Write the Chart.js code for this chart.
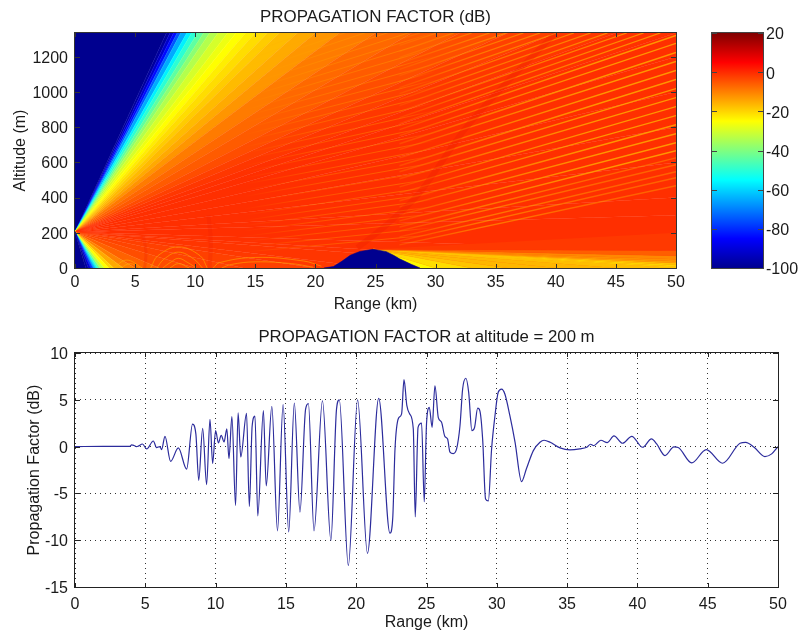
<!DOCTYPE html>
<html>
<head>
<meta charset="utf-8">
<title>Propagation factor</title>
<script src="https://cdn.jsdelivr.net/npm/chart.js@4"></script>
<style>
  html, body { margin: 0; padding: 0; background: #fff; }
  canvas { position: absolute; display: block; }
</style>
</head>
<body>
<canvas id="mapChart" width="700" height="315" style="left:0;top:0;width:700px;height:315px"></canvas>
<canvas id="barChart" width="103" height="312" style="left:700px;top:0;width:103px;height:312px"></canvas>
<canvas id="cutChart" width="803" height="313" style="left:0;top:320px;width:803px;height:313px"></canvas>
<script>
// jet colormap
const jetDb = [-100, -85, -55, -25, 5, 20];
const jetRgb = [[0, 0, 143], [0, 0, 255], [0, 255, 255], [255, 255, 0], [255, 0, 0], [128, 0, 0]];
const barTicks = [-100, -80, -60, -40, -20, 0, 20];

// map: source point, then the fan of angles around it (edge of the plot, dB per ray)
const sourceRange = 0;
const sourceAlt = 205;
const fanRange = [0, 7.6, 7.9, 8.2, 8.5, 8.8, 9.3, 9.7, 10.2, 10.7, 11.2, 11.9, 12.7, 13.4, 14.2, 15, 16, 17, 18.5, 20, 22, 25, 28, 32, 36, 40, 45, 50,
  50, 50, 50, 50, 50, 50, 50, 50,
  40, 25, 20, 14, 10, 7, 5, 4, 3.2, 2.8, 2.4, 2.1, 1.9, 1.7, 1.5, 1.3, 1.1, 0.9, 0];
const fanAlt = [1335, 1335, 1335, 1335, 1335, 1335, 1335, 1335, 1335, 1335, 1335, 1335, 1335, 1335, 1335, 1335, 1335, 1335, 1335, 1335, 1335, 1335, 1335, 1335, 1335, 1335, 1335, 1335,
  1200, 1000, 800, 600, 400, 300, 100, 0,
  0, 0, 0, 0, 0, 0, 0, 0, 0, 0, 0, 0, 0, 0, 0, 0, 0, 0, 0];
const fanDb = [-100, -100, -96, -88, -80, -70, -60, -53, -47, -41, -36, -32, -28, -26, -24, -22, -20, -18, -16, -14, -11, -8, -6.5, -5, -3, -2, -1, -0.5,
  -0.5, -0.5, -0.5, -0.5, -0.5, -0.5, -0.5, -1,
  -1, -1.5, -2, -3, -3, -5, -8, -12, -18, -22, -28, -36, -45, -56, -70, -85, -95, -100, -100];

// shadow behind the hill: rays from the hill top
const hillRange = [20.7, 21.5, 22.2, 22.9, 23.7, 24.8, 25.9, 26.5, 27, 28, 28.7];
const hillAlt = [0, 8, 38, 72, 94, 106, 93, 72, 52, 20, 0];
const shadowRange = [28.7, 30, 33, 36, 40, 45, 50, 50, 50, 50, 50, 50, 50, 50, 50];
const shadowAlt = [0, 0, 0, 0, 0, 0, 0, 8, 18, 28, 38, 50, 70, 100, 200];
const shadowDb = [-26, -23, -19, -17, -16, -17, -18, -20, -20, -17, -11, -13, -9, -3, -0.5];

// interference stripes, right half
const stripeRangeA = [27, 27, 27, 27, 27, 27, 27, 27, 27, 27, 27, 27, 27, 27, 27, 27, 27, 27, 27];
const stripeAltA = [786, 752, 706, 672, 626, 581, 547, 507, 461, 427, 382, 347, 302, 268, 233, 211, 177, 154, 131];
const stripeRangeB = [50, 50, 50, 50, 50, 50, 50, 50, 50, 50, 50, 50, 50, 50, 50, 50, 50, 50, 50];
const stripeAltB = [1321, 1276, 1224, 1173, 1122, 1071, 1019, 968, 917, 866, 814, 763, 712, 666, 626, 587, 547, 513, 467];

// stripes that run out through the top edge
const topStripeAlt = [820, 854, 888, 923, 957, 991, 1025, 1059, 1093, 1128, 1162, 1196, 1230, 1265, 1299];
const topStripeEnd = [48.7, 47.3, 45.9, 44.3, 42.9, 41.5, 40.1, 38.7, 37.3, 35.9, 34.5, 33, 31.5, 30.1, 28.7];

// finer, fainter stripes further left, altitude at 14 km and at 30 km
const fineAlt14 = [90, 120, 150, 180, 210, 240, 270, 300, 335, 370, 405, 440, 475, 510, 545, 580, 615, 650, 685, 720, 755, 790, 825, 860, 895, 930, 965, 1000, 1035, 1070, 1105, 1140, 1175, 1210];
const fineAlt30 = [190, 230, 270, 310, 350, 390, 425, 465, 510, 555, 600, 640, 680, 725, 770, 810, 855, 895, 940, 985, 1030, 1070, 1115, 1160, 1205, 1250, 1295, 1340, 1385, 1425, 1470, 1510, 1555, 1595];

// rings close to the ground
const ringRanges = [
  [6.3, 6.9, 8.6, 10.4, 11], [6.8, 7.4, 8.6, 9.9, 10.6], [7.3, 7.9, 8.6, 9.4, 10.1], [7.9, 8.6, 9.5],
  [3.2, 4.3, 5.6], [3.8, 4.6, 5.4], [11.5, 12, 15, 19, 20.5], [12.2, 13, 15, 18, 19.8]
];
const ringAlts = [
  [0, 70, 120, 70, 0], [0, 50, 90, 50, 0], [0, 30, 55, 30, 0], [0, 25, 0],
  [0, 45, 0], [0, 25, 0], [0, 30, 60, 40, 10], [0, 20, 35, 25, 5]
];

// darker red arc above the hill, and the two short ones on the left
const arcRange = [23.5, 26, 28.7, 32.4, 36, 40];
const arcAlt = [115, 250, 430, 786, 1060, 1335];
const nearArcRange = [5.8, 5.9, 5.7];
const nearArcAlt = [0, 90, 180];
const midArcRange = [11.2, 11.3, 11.1];
const midArcAlt = [0, 150, 300];

const mapRangeTicks = [0, 5, 10, 15, 20, 25, 30, 35, 40, 45, 50];

// cut at 200 m
const cutRange = [0, 2, 3.9, 4.03, 4.2, 4.39, 4.5, 4.8, 5.1, 5.57, 5.8, 6.04, 6.16, 6.4, 6.8, 7.35, 7.94, 8.36, 8.6, 8.8, 9.08, 9.36, 9.6, 9.79, 10, 10.2, 10.4, 10.6, 10.8, 10.95, 11.16, 11.42, 11.6, 11.79, 12.2, 12.4, 12.6, 12.8, 13, 13.4, 13.6, 14, 14.4, 14.8, 15.2, 15.6, 16, 16.4, 16.6, 17, 17.6, 18.2, 18.6, 18.8, 19.44, 20.1, 20.8, 21.6, 22.4, 22.6, 22.76, 23, 23.23, 23.4, 23.6, 23.8, 24.06, 24.2, 24.4, 24.65, 24.84, 25, 25.2, 25.4, 25.6, 25.84, 26.07, 26.3, 26.5, 26.67, 26.9, 27.14, 27.38, 27.57, 27.8, 28, 28.23, 28.42, 28.64, 28.8, 29, 29.2, 29.4, 29.63, 29.87, 30.1, 30.34, 30.58, 30.93, 31.3, 31.76, 32.1, 32.6, 33.07, 33.36, 33.8, 34.5, 35.2, 35.9, 36.4, 36.67, 36.9, 37.4, 37.86, 38.33, 38.95, 39.6, 40.37, 41, 41.37, 41.96, 42.6, 42.9, 43.86, 44.9, 46.06, 47.3, 47.7, 48.3, 49.07, 49.55, 50];
const cutDb = [0, 0.02, 0.03, 0.18, 0.12, 0, 0.05, 0.28, -0.25, 0.6, -0.1, 0, -0.32, 1.1, -1.57, -0.14, -2.4, 2.4, 1.3, -3.6, 1.96, -4.06, 2.9, -1.8, 1.7, 0.4, 1.2, 0.5, 1.9, -1.3, 3.2, -6.3, 3.6, -1.1, 3.55, -6.4, 2.2, 3.25, -7.4, 3.84, -4.2, 4.3, -9, 4.5, -9.1, 4.66, -7, 4, 4.6, -9, 4.9, -10, 4, 5, -12.7, 5, -11.4, 5.16, -9.25, -7.6, -0.25, 3, 3.5, 7.15, 4.4, 3.5, 1.9, -7.5, 2.06, 2.5, -5.9, 2.4, 4.2, 2.06, 6.5, 3.1, 2.6, 1.1, 0.8, -0.6, -0.75, -0.25, 2.2, 6.15, 7.3, 5.8, 1.7, 2.06, 4.1, 3.8, 0.64, -5.6, -5.8, -0.25, 3.3, 5.8, 6.15, 5.6, 3.3, 0.46, -3.74, -2.4, -0.43, 0.46, 0.68, 0.46, -0.14, -0.36, -0.25, -0.07, 0.25, 0.1, 0.68, 0.43, 1.14, 0.36, 1.1, -0.07, 0.82, 0.28, -0.96, -0.04, -0.1, -1.74, -0.32, -1.78, 0.36, 0.46, -0.07, -1.07, -0.78, 0];

const fontFamily = '"Liberation Sans", Arial, sans-serif';
const textColor = '#1a1a1a';

function jet(db) {
  let i = 0;
  while (i < jetDb.length - 2 && db > jetDb[i + 1]) i++;
  const t = Math.max(0, Math.min(1, (db - jetDb[i]) / (jetDb[i + 1] - jetDb[i])));
  const c = jetRgb[i].map((v, k) => Math.round(v + (jetRgb[i + 1][k] - v) * t));
  return `rgb(${c[0]}, ${c[1]}, ${c[2]})`;
}

function xy(xs, ys) {
  return xs.map((x, i) => ({ x, y: ys[i] }));
}

function shape(points, color) {
  return { data: points, fill: 'shape', backgroundColor: color, borderColor: color, borderWidth: 0.6, pointRadius: 0, tension: 0 };
}

function stroke(points, color, width, tension) {
  return { data: points, fill: false, borderColor: color, borderWidth: width, pointRadius: 0, tension: tension || 0 };
}

// stripe whose strength changes along the range axis: [km, alpha] pairs
function fadeColor(rgb, fade) {
  return c => {
    const x = c.chart.scales.x;
    const x0 = x ? x.getPixelForValue(fade[0][0]) : NaN;
    const x1 = x ? x.getPixelForValue(fade[fade.length - 1][0]) : NaN;
    if (!isFinite(x0) || !isFinite(x1)) return 'rgba(0, 0, 0, 0)';
    const g = c.chart.ctx.createLinearGradient(x0, 0, x1, 0);
    const span = fade[fade.length - 1][0] - fade[0][0];
    fade.forEach(f => g.addColorStop((f[0] - fade[0][0]) / span, `rgba(${rgb}, ${f[1]})`));
    return g;
  };
}

// title over the plot area, not over the whole canvas
const plotTitle = {
  id: 'plotTitle',
  afterDraw(chart, args, opts) {
    const { ctx, chartArea } = chart;
    ctx.save();
    ctx.font = `${opts.size}px ${fontFamily}`;
    ctx.fillStyle = textColor;
    ctx.textAlign = 'center';
    ctx.textBaseline = 'middle';
    ctx.fillText(opts.text, (chartArea.left + chartArea.right) / 2, opts.y);
    ctx.restore();
  }
};

// box round the plot with short inward ticks like the original
const plotBox = {
  id: 'plotBox',
  afterDatasetsDraw(chart, args, opts) {
    const { ctx, chartArea, scales } = chart;
    const { left, right, top, bottom } = chartArea;
    ctx.save();
    ctx.strokeStyle = opts.color;
    ctx.lineWidth = 1;
    ctx.strokeRect(left - 0.5, top - 0.5, right - left + 1, bottom - top + 1);
    ctx.beginPath();
    if (scales.x.options.display) {
      scales.x.ticks.forEach(t => {
        const px = Math.round(scales.x.getPixelForValue(t.value)) + 0.5;
        ctx.moveTo(px, bottom); ctx.lineTo(px, bottom - 4);
        ctx.moveTo(px, top); ctx.lineTo(px, top + 4);
      });
    }
    scales.y.ticks.forEach(t => {
      const py = Math.round(scales.y.getPixelForValue(t.value)) + 0.5;
      ctx.moveTo(left, py); ctx.lineTo(left + 5, py);
      ctx.moveTo(right, py); ctx.lineTo(right - 5, py);
    });
    ctx.stroke();
    ctx.restore();
  }
};

function tickFont() {
  return { family: fontFamily, size: 16 };
}

function axisTitle(text, pad) {
  return { display: true, text, color: textColor, font: { family: fontFamily, size: 16 }, padding: pad };
}

const plainTick = value => String(value);

document.addEventListener('DOMContentLoaded', () => {
  // heat map, painter's order: first dataset in this list is painted first
  const layers = [];
  for (let i = 0; i < fanRange.length - 1; i++) {
    const pts = [{ x: sourceRange, y: sourceAlt }, { x: fanRange[i], y: fanAlt[i] }, { x: fanRange[i + 1], y: fanAlt[i + 1] }];
    layers.push(shape(pts, jet((fanDb[i] + fanDb[i + 1]) / 2)));
  }
  fineAlt14.forEach((a, i) => {
    layers.push(stroke([{ x: 14, y: a }, { x: 30, y: fineAlt30[i] }], fadeColor('255, 165, 0', [[14, 0], [20, 0.3], [27, 0.4], [30, 0]]), 1));
  });
  ringRanges.forEach((r, i) => {
    layers.push(stroke(xy(r, ringAlts[i]), 'rgba(255, 190, 0, 0.5)', 1, 0.4));
  });
  layers.push(stroke(xy(nearArcRange, nearArcAlt), 'rgba(240, 30, 0, 0.25)', 3, 0.4));
  layers.push(stroke(xy(midArcRange, midArcAlt), 'rgba(240, 30, 0, 0.25)', 4, 0.4));
  for (let i = 0; i < shadowRange.length - 1; i++) {
    const pts = [{ x: 24.8, y: 106 }, { x: shadowRange[i], y: shadowAlt[i] }, { x: shadowRange[i + 1], y: shadowAlt[i + 1] }];
    layers.push(shape(pts, jet((shadowDb[i] + shadowDb[i + 1]) / 2)));
  }
  topStripeAlt.forEach((a, i) => {
    layers.push(stroke([{ x: 27, y: a }, { x: topStripeEnd[i], y: 1335 }], fadeColor('255, 170, 0', [[27, 0.15], [33, 0.5], [50, 0.8]]), 1.3));
  });
  stripeAltA.forEach((a, i) => {
    const top = i > 13 ? 0.4 : 0.8;
    layers.push(stroke([{ x: stripeRangeA[i], y: a }, { x: stripeRangeB[i], y: stripeAltB[i] }], fadeColor('255, 175, 0', [[27, 0.2], [34, 0.55], [44, top], [50, top]]), 1.4));
  });
  layers.push(stroke(xy(arcRange, arcAlt), 'rgba(235, 30, 0, 0.3)', 6, 0.3));
  layers.push(shape(xy(hillRange, hillAlt), jet(-100)));

  new Chart(document.getElementById('mapChart').getContext('2d'), {
    type: 'line',
    data: { datasets: layers.reverse() },
    plugins: [plotTitle, plotBox],
    options: {
      responsive: false,
      animation: false,
      layout: { padding: { top: 33, right: 24 } },
      plugins: {
        legend: { display: false },
        tooltip: { enabled: false },
        plotTitle: { text: 'PROPAGATION FACTOR (dB)', size: 16.9, y: 17 },
        plotBox: { color: '#333' }
      },
      scales: {
        x: {
          type: 'linear', min: 0, max: 50,
          afterBuildTicks: s => { s.ticks = mapRangeTicks.map(value => ({ value })); },
          afterFit: s => { s.height = 47; },
          grid: { display: false, drawTicks: false },
          border: { display: false },
          ticks: { color: textColor, font: tickFont(), padding: 5, autoSkip: false, maxRotation: 0, callback: plainTick },
          title: axisTitle('Range (km)', { top: 0, bottom: 1 })
        },
        y: {
          type: 'linear', min: 0, max: 1335,
          afterFit: s => { s.width = 75; },
          grid: { display: false, drawTicks: false },
          border: { display: false },
          ticks: { color: textColor, font: tickFont(), padding: 7, stepSize: 200, includeBounds: false, labelOffset: 1.5, callback: plainTick },
          title: axisTitle('Altitude (m)', { top: 11, bottom: 0 })
        }
      }
    }
  });

  new Chart(document.getElementById('barChart').getContext('2d'), {
    type: 'bar',
    data: {
      labels: ['dB'],
      datasets: [{
        data: [[jetDb[0], jetDb[jetDb.length - 1]]],
        barPercentage: 1,
        categoryPercentage: 1,
        backgroundColor(c) {
          const y = c.chart.scales.y;
          const y0 = y ? y.getPixelForValue(-100) : NaN;
          const y1 = y ? y.getPixelForValue(20) : NaN;
          if (!isFinite(y0) || !isFinite(y1)) return jet(0);
          const g = c.chart.ctx.createLinearGradient(0, y0, 0, y1);
          jetDb.forEach(db => g.addColorStop((db + 100) / 120, jet(db)));
          return g;
        }
      }]
    },
    plugins: [plotBox],
    options: {
      responsive: false,
      animation: false,
      layout: { padding: { top: 33, left: 12, bottom: 44 } },
      plugins: { legend: { display: false }, tooltip: { enabled: false }, plotBox: { color: '#444' } },
      scales: {
        x: { display: false },
        y: {
          position: 'right', min: -100, max: 20,
          afterBuildTicks: s => { s.ticks = barTicks.map(value => ({ value })); },
          afterFit: s => { s.width = 40; },
          grid: { display: false, drawTicks: false },
          border: { display: false },
          ticks: { color: textColor, font: tickFont(), padding: 3, labelOffset: 2 }
        }
      }
    }
  });

  new Chart(document.getElementById('cutChart').getContext('2d'), {
    type: 'line',
    data: {
      datasets: [{
        data: xy(cutRange, cutDb),
        borderColor: '#2c2c9c',
        borderWidth: 1.2,
        pointRadius: 0,
        fill: false,
        cubicInterpolationMode: 'monotone'
      }]
    },
    plugins: [plotTitle, plotBox],
    options: {
      responsive: false,
      animation: false,
      layout: { padding: { top: 33, right: 25 } },
      plugins: {
        legend: { display: false },
        tooltip: { enabled: false },
        plotTitle: { text: 'PROPAGATION FACTOR at altitude = 200 m', size: 16.8, y: 17 },
        plotBox: { color: '#222' }
      },
      scales: {
        x: {
          type: 'linear', min: 0, max: 50,
          afterBuildTicks: s => { s.ticks = mapRangeTicks.map(value => ({ value })); },
          afterFit: s => { s.height = 46; },
          grid: { color: '#333', drawTicks: false },
          border: { dash: [1, 4], display: false },
          ticks: { color: textColor, font: tickFont(), padding: 8, autoSkip: false, maxRotation: 0, callback: plainTick },
          title: axisTitle('Range (km)', { top: 0, bottom: 1 })
        },
        y: {
          type: 'linear', min: -15, max: 10,
          afterFit: s => { s.width = 75; },
          grid: { color: '#333', drawTicks: false },
          border: { dash: [1, 4], display: false },
          ticks: { color: textColor, font: tickFont(), padding: 7, stepSize: 5, labelOffset: 1.5, callback: plainTick },
          title: axisTitle('Propagation Factor (dB)', { top: 25, bottom: 0 })
        }
      }
    }
  });
});
</script>
</body>
</html>
